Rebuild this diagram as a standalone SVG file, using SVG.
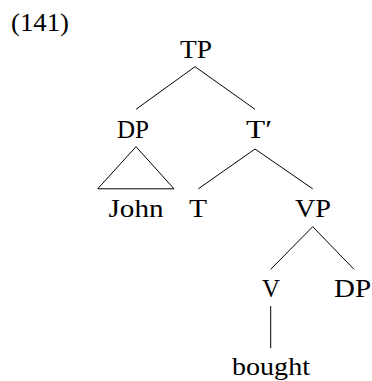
<svg xmlns="http://www.w3.org/2000/svg" width="372" height="381" viewBox="0 0 372 381">
<style>
text{font-family:"Liberation Serif","Times New Roman",serif;font-size:25px;fill:#000}
.n text{text-anchor:middle}
#edges line,#edges polygon{stroke:#000;stroke-width:1;fill:none}
</style>
<rect width="372" height="381" fill="#fff"/>
<text id="label" x="11" y="30.5" textLength="58" lengthAdjust="spacingAndGlyphs">(141)</text>
<g id="edges">
<line x1="195" y1="66.7" x2="136" y2="109.3"/>
<line x1="195" y1="66.7" x2="255" y2="109.3"/>
<polygon points="136,146.7 97.7,188.8 174,188.8"/>
<line x1="255" y1="149" x2="198.3" y2="188.8"/>
<line x1="255" y1="149" x2="312.7" y2="188.8"/>
<line x1="312.7" y1="226.7" x2="270.7" y2="269.3"/>
<line x1="312.7" y1="226.7" x2="354" y2="269.3"/>
<line x1="270.7" y1="306" x2="270.7" y2="348.3"/>
</g>
<g id="TP" class="n"><text x="196" y="58.3" textLength="32" lengthAdjust="spacingAndGlyphs">TP</text></g>
<g id="DP1" class="n"><text x="133" y="138.3" textLength="32" lengthAdjust="spacingAndGlyphs">DP</text></g>
<g id="Tbar" class="n"><text x="259" y="138.3" textLength="26" lengthAdjust="spacingAndGlyphs">T′</text></g>
<g id="John" class="n"><text x="136" y="216.7" textLength="55" lengthAdjust="spacingAndGlyphs">John</text></g>
<g id="T" class="n"><text x="198" y="216.7" textLength="18" lengthAdjust="spacingAndGlyphs">T</text></g>
<g id="VP" class="n"><text x="313" y="216.7" textLength="36" lengthAdjust="spacingAndGlyphs">VP</text></g>
<g id="V" class="n"><text x="271" y="297.3" textLength="18" lengthAdjust="spacingAndGlyphs">V</text></g>
<g id="DP2" class="n"><text x="352.5" y="297.3" textLength="37" lengthAdjust="spacingAndGlyphs">DP</text></g>
<g id="bought" class="n"><text x="271" y="375" textLength="78" lengthAdjust="spacingAndGlyphs">bought</text></g>
</svg>
